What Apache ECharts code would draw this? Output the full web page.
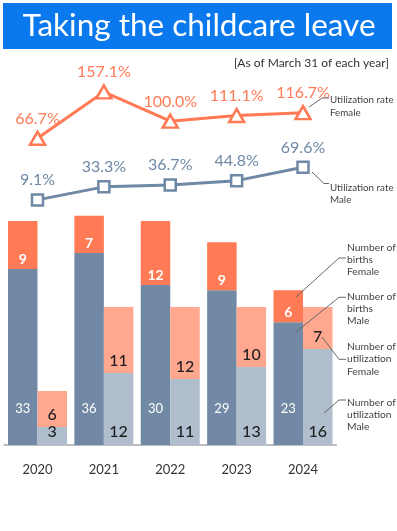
<!DOCTYPE html>
<html>
<head>
<meta charset="utf-8">
<script src="https://cdn.jsdelivr.net/npm/echarts@6/dist/echarts.min.js"></script>
<style>
html,body{margin:0;padding:0;background:#fff;}
#c{width:397px;height:531px;}
</style>
</head>
<body>
<div id="c"></div>
<script>
const years = ['2020','2021','2022','2023','2024'];
const birthsMale = [33, 36, 30, 29, 23];
const birthsFemale = [9, 7, 12, 9, 6];
const utilMale = [3, 12, 11, 13, 16];
const utilFemale = [6, 11, 12, 10, 7];
const rateFemale = [66.7, 157.1, 100.0, 111.1, 116.7];
const rateMale = [9.1, 33.3, 36.7, 44.8, 69.6];

const C_ORANGE = '#FF7A55';
const C_LORANGE = '#FFA78F';
const C_SLATE = '#7189A5';
const C_LSLATE = '#AFBDCD';
const C_LINE_M = '#6E88A5';
const FONT = 'Lato';

const chart = echarts.init(document.getElementById('c'), null, {renderer: 'canvas'});
const gLeft = 4.3, gRight = 60.8;

const hiddenX = i => ({type: 'category', data: years, gridIndex: i, show: false, boundaryGap: true});

const option = {
  animation: false,
  textStyle: {fontFamily: FONT},
  title: [{
    text: '[As of March 31 of each year]',
    right: 3, top: 52,
    textStyle: {fontSize: 12, fontWeight: 'normal', color: '#333', fontFamily: FONT}
  }],
  grid: [
    {left: gLeft, right: gRight, top: 205, height: 240},
    {left: gLeft, right: gRight, top: 69.9, height: 102.6},
    {left: gLeft, right: gRight, top: 150.9, height: 53.9}
  ],
  xAxis: [
    {type: 'category', data: years, gridIndex: 0,
      axisLine: {show: true, lineStyle: {color: '#BDBDBD', width: 2}},
      axisTick: {show: false},
      axisLabel: {color: '#333', fontSize: 13, margin: 18, fontFamily: FONT}},
    hiddenX(1), hiddenX(2)
  ],
  yAxis: [
    {type: 'value', gridIndex: 0, min: 0, max: 45, show: false},
    {type: 'value', gridIndex: 0, min: 0, max: 40, show: false},
    {type: 'value', gridIndex: 1, min: 0, max: 200, show: false},
    {type: 'value', gridIndex: 2, min: 0, max: 100, show: false}
  ],
  series: [
    {type: 'bar', name: 'Number of births Male', data: birthsMale, stack: 'births',
      xAxisIndex: 0, yAxisIndex: 0, barWidth: 29.5, barGap: '0%',
      itemStyle: {color: C_SLATE},
      label: {show: true, position: 'insideBottom', distance: 30, color: '#fff', fontSize: 13, fontFamily: FONT}},
    {type: 'bar', name: 'Number of births Female', data: birthsFemale, stack: 'births',
      xAxisIndex: 0, yAxisIndex: 0, barWidth: 29.5, barGap: '0%',
      itemStyle: {color: C_ORANGE},
      label: {show: true, position: 'insideBottom', distance: 3, color: '#fff', fontSize: 14, fontWeight: 'bold', fontFamily: FONT}},
    {type: 'bar', name: 'Number of utilization Male', data: utilMale, stack: 'util',
      xAxisIndex: 0, yAxisIndex: 1, barWidth: 29.5, barGap: '0%',
      itemStyle: {color: C_LSLATE},
      label: {show: true, position: 'insideBottom', distance: 5, color: '#1e1e1e', fontSize: 16, fontWeight: 500, fontFamily: FONT}},
    {type: 'bar', name: 'Number of utilization Female', data: utilFemale, stack: 'util',
      xAxisIndex: 0, yAxisIndex: 1, barWidth: 29.5, barGap: '0%',
      itemStyle: {color: C_LORANGE},
      label: {show: true, position: 'insideBottom', distance: 4, color: '#1e1e1e', fontSize: 16, fontWeight: 500, fontFamily: FONT}},
    {type: 'line', name: 'Utilization rate Female', data: rateFemale,
      xAxisIndex: 1, yAxisIndex: 2,
      symbol: 'triangle', symbolSize: [15, 13], showAllSymbol: true,
      lineStyle: {color: C_ORANGE, width: 3},
      itemStyle: {color: '#fff', borderColor: C_ORANGE, borderWidth: 2.5},
      label: {show: true, position: 'top', distance: 4, color: C_ORANGE, fontSize: 16, fontFamily: FONT,
        formatter: p => p.value.toFixed(1) + '%'}},
    {type: 'line', name: 'Utilization rate Male', data: rateMale,
      xAxisIndex: 2, yAxisIndex: 3,
      symbol: 'rect', symbolSize: 11, showAllSymbol: true,
      lineStyle: {color: C_LINE_M, width: 3},
      itemStyle: {color: '#fff', borderColor: C_LINE_M, borderWidth: 2.5},
      label: {show: true, position: 'top', distance: 5, color: C_LINE_M, fontSize: 16, fontFamily: FONT,
        formatter: p => p.value.toFixed(1) + '%'}}
  ],
  graphic: []
};

const lead = pts => ({type: 'polyline', silent: true, z: 50,
  shape: {points: pts}, style: {stroke: '#666', lineWidth: 1, fill: null}});
const note = (x, y, txt, lh, fs) => ({type: 'text', x: x, y: y, silent: true, z: 50,
  style: {text: txt, fill: '#444', font: fs + 'px ' + FONT, lineHeight: lh, textVerticalAlign: 'top'}});

option.graphic = [
  {type: 'rect', shape: {x: 3, y: 3, width: 389, height: 46}, style: {fill: '#0A79EE'}, z: 0},
  {type: 'text', x: 199, y: 26, z: 1,
    style: {text: 'Taking the childcare leave', fill: '#fff', font: '31.5px ' + FONT,
      textAlign: 'center', textVerticalAlign: 'middle'}},
  lead([[309, 107], [322, 98], [329, 98]]),
  lead([[312, 172], [324, 183.5], [329, 183.5]]),
  lead([[296, 297], [339, 258], [346, 258]]),
  lead([[296, 332], [339, 297.3], [346, 297.3]]),
  lead([[322, 337], [339, 359.3], [346, 359.3]]),
  lead([[324, 413], [339, 400], [346, 400]]),
  note(330, 93, 'Utilization rate\nFemale', 13, 9.8),
  note(330, 181.5, 'Utilization rate\nMale', 12.5, 9.8),
  note(347, 242, 'Number of\nbirths\nFemale', 12, 10.3),
  note(347, 291, 'Number of\nbirths\nMale', 12, 10.3),
  note(347, 340, 'Number of\nutilization\nFemale', 12.5, 10.3),
  note(347, 396.5, 'Number of\nutilization\nMale', 12.2, 10.3)
];

chart.setOption(option);
</script>
</body>
</html>
